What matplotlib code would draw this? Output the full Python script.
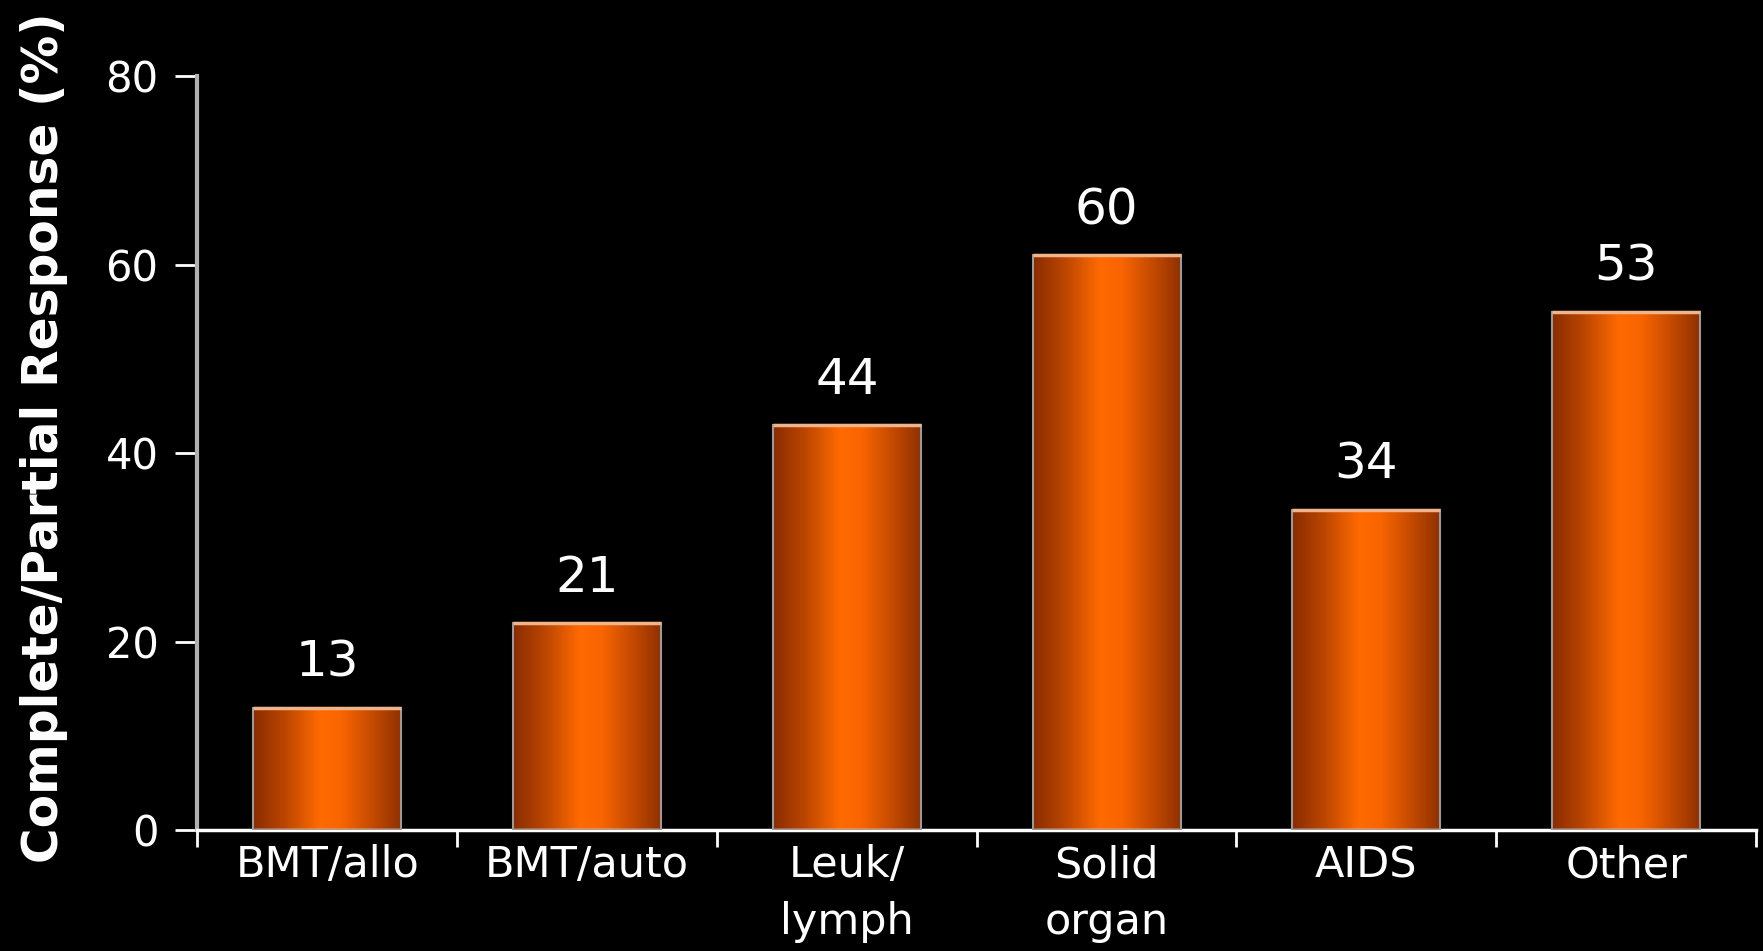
import numpy as np
import matplotlib.pyplot as plt
from matplotlib.colors import LinearSegmentedColormap

# Data
categories = ["BMT/allo", "BMT/auto", "Leuk/\nlymph", "Solid\norgan", "AIDS", "Other"]
bar_heights = [13, 22, 43, 61, 34, 55]     # drawn bar tops
bar_labels = [13, 21, 44, 60, 34, 53]      # printed values
yticks = [0, 20, 40, 60, 80]

# orange cylinder-ish shading across each bar
shade = LinearSegmentedColormap.from_list(
    "shade", [(0.0, "#8a2c00"), (0.2, "#b84400"), (0.45, "#ff6a00"),
              (0.6, "#f86400"), (0.85, "#b84400"), (1.0, "#8e3000")])

fig = plt.figure(figsize=(17.63, 9.51), dpi=100, facecolor="black")
ax = fig.add_axes([0.112, 0.127, 0.884, 0.793], facecolor="black")

x = np.arange(len(categories))
width = 0.57
bars = ax.bar(x, bar_heights, width=width, color="none", edgecolor="#9a9a9a",
              linewidth=1.5, zorder=3)

grad = np.linspace(0, 1, 256).reshape(1, -1)
for b in bars:
    x0, y0 = b.get_x(), b.get_y()
    w, h = b.get_width(), b.get_height()
    im = ax.imshow(grad, cmap=shade, aspect="auto", extent=[x0, x0 + w, y0, y0 + h],
                   zorder=2)
    im.set_clip_path(b)
    # light peach rim at the top
    ax.plot([x0, x0 + w], [y0 + h, y0 + h], color="#f0b48a", lw=2.5, zorder=4,
            solid_capstyle="butt")

for xi, h, lab in zip(x, bar_heights, bar_labels):
    ax.annotate(str(lab), (xi, h), xytext=(0, 15), textcoords="offset points",
                ha="center", va="bottom", color="white", fontsize=36)

ax.set_xlim(-0.5, len(categories) - 0.5)
ax.set_ylim(0, 80)

ax.set_yticks(yticks)
ax.set_yticklabels([str(t) for t in yticks])
ax.tick_params(axis="y", colors="white", labelsize=30, length=16, width=2, pad=12)

# ticks at category boundaries, labels under bar centres
ax.set_xticks(np.arange(-0.5, len(categories), 1.0))
ax.set_xticklabels([])
ax.set_xticks(x, minor=True)
ax.set_xticklabels(categories, minor=True, fontsize=31, color="white",
                   linespacing=1.45)
ax.tick_params(axis="x", which="major", colors="white", length=12, width=2)
ax.tick_params(axis="x", which="minor", length=0, pad=10)

for s in ["top", "right"]:
    ax.spines[s].set_visible(False)
ax.spines["left"].set_color("#b0b0b0")
ax.spines["left"].set_linewidth(3)
ax.spines["bottom"].set_color("white")
ax.spines["bottom"].set_linewidth(2.5)

ax.set_ylabel("Complete/Partial Response (%)", color="white", fontsize=35,
              fontweight="bold")
ax.yaxis.set_label_coords(-0.083, 0.52)

fig.savefig("out.png", dpi=100, facecolor="black")
